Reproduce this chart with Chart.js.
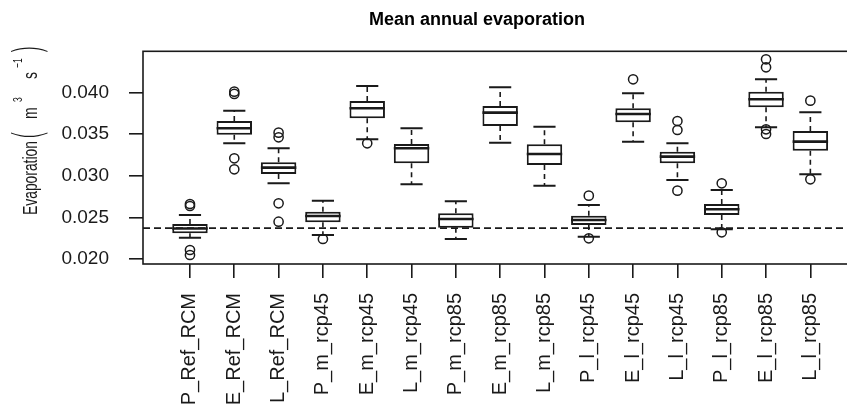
<!DOCTYPE html>
<html>
<head>
<meta charset="utf-8">
<script src="https://cdn.jsdelivr.net/npm/chart.js@4.4.1/dist/chart.umd.min.js"></script>
<style>
  html, body { margin: 0; padding: 0; background: #fff; overflow: hidden; }
  #wrap { width: 954px; height: 406px; }
</style>
</head>
<body>
<div id="wrap"><canvas id="evapChart" width="954" height="406"></canvas></div>
<script>
const categories = ['P_Ref_RCM', 'E_Ref_RCM', 'L_Ref_RCM', 'P_m_rcp45', 'E_m_rcp45', 'L_m_rcp45',
  'P_m_rcp85', 'E_m_rcp85', 'L_m_rcp85', 'P_l_rcp45', 'E_l_rcp45', 'L_l_rcp45',
  'P_l_rcp85', 'E_l_rcp85', 'L_l_rcp85'];

// box plot stats (m3 s-1)
const whiskerLow  = [0.02256, 0.03388, 0.02908, 0.02288, 0.03436, 0.02896, 0.02240, 0.03396, 0.02880, 0.02268, 0.03408, 0.02948, 0.02356, 0.03580, 0.03016];
const q1          = [0.02308, 0.03492, 0.03020, 0.02440, 0.03688, 0.03148, 0.02376, 0.03596, 0.03128, 0.02408, 0.03640, 0.03148, 0.02528, 0.03820, 0.03300];
const median      = [0.02366, 0.03568, 0.03096, 0.02516, 0.03808, 0.03328, 0.02480, 0.03756, 0.03260, 0.02468, 0.03740, 0.03228, 0.02596, 0.03916, 0.03408];
const q3          = [0.02420, 0.03656, 0.03160, 0.02568, 0.03896, 0.03380, 0.02548, 0.03836, 0.03376, 0.02520, 0.03808, 0.03288, 0.02660, 0.04008, 0.03536];
const whiskerHigh = [0.02528, 0.03780, 0.03328, 0.02700, 0.04076, 0.03568, 0.02692, 0.04060, 0.03588, 0.02648, 0.03988, 0.03388, 0.02828, 0.04156, 0.03760];
const outliers = [
  [0.02660, 0.02636, 0.02108, 0.02048],
  [0.04008, 0.03980, 0.03208, 0.03076],
  [0.03516, 0.03460, 0.02668, 0.02448],
  [0.02240],
  [0.03388],
  [],
  [],
  [],
  [],
  [0.02760, 0.02248],
  [0.04156],
  [0.03656, 0.03548, 0.02820],
  [0.02908, 0.02320],
  [0.04396, 0.04300, 0.03556, 0.03500],
  [0.03900, 0.02956]
];
const refLine = 0.0237;
const yTicks = [0.020, 0.025, 0.030, 0.035, 0.040];
const xMin = -0.06, xMax = 16.075;
const yMin = 0.0194, yMax = 0.04492;

const INK = '#1a1a1a';
const FONT = "'Liberation Sans', Arial, sans-serif";

Chart.defaults.font.family = FONT;
Chart.defaults.color = INK;

function drawYTitle(ctx) {
  const squeeze = 0.66;
  // text, font, offset along text, offset across (negative = raised)
  const pieces = [
    ['Evaporation', '21px ' + FONT, 0, 0],
    ['(', "200 40px 'DejaVu Sans', " + FONT, 75, 5],
    ['m', '21px ' + FONT, 96, 0],
    ['3', '13px ' + FONT, 113, -15],
    ['s', '21px ' + FONT, 136, 0],
    ['\u22121', '13px ' + FONT, 147, -15],
    [')', "200 40px 'DejaVu Sans', " + FONT, 160, 5]
  ];
  ctx.save();
  ctx.translate(37, 215);
  ctx.rotate(-Math.PI / 2);
  ctx.fillStyle = INK;
  ctx.textBaseline = 'alphabetic';
  pieces.forEach(([text, font, along, across]) => {
    ctx.save();
    ctx.translate(along, across);
    ctx.scale(squeeze, 1);
    ctx.font = font;
    ctx.fillText(text, 0, 0);
    ctx.restore();
  });
  ctx.restore();
}

const boxExtras = {
  id: 'boxExtras',
  afterDatasetsDraw(chart) {
    const { ctx, chartArea, scales: { x, y } } = chart;
    ctx.save();
    ctx.strokeStyle = INK;
    categories.forEach((cat, i) => {
      const cx = x.getPixelForValue(i + 1);
      const half = x.getPixelForValue(i + 1.4) - cx;
      const cap = x.getPixelForValue(i + 1.25) - cx;

      // dashed whiskers
      ctx.lineWidth = 1.6;
      ctx.setLineDash([5, 4]);
      ctx.beginPath();
      ctx.moveTo(cx, y.getPixelForValue(q3[i]));
      ctx.lineTo(cx, y.getPixelForValue(whiskerHigh[i]));
      ctx.moveTo(cx, y.getPixelForValue(q1[i]));
      ctx.lineTo(cx, y.getPixelForValue(whiskerLow[i]));
      ctx.stroke();

      // staples
      ctx.setLineDash([]);
      ctx.lineWidth = 2;
      ctx.beginPath();
      const hi = y.getPixelForValue(whiskerHigh[i]);
      const lo = y.getPixelForValue(whiskerLow[i]);
      ctx.moveTo(cx - cap, hi); ctx.lineTo(cx + cap, hi);
      ctx.moveTo(cx - cap, lo); ctx.lineTo(cx + cap, lo);
      ctx.stroke();

      // median
      ctx.lineWidth = 2.6;
      ctx.beginPath();
      const md = y.getPixelForValue(median[i]);
      ctx.moveTo(cx - half, md); ctx.lineTo(cx + half, md);
      ctx.stroke();
    });

    // plot frame
    ctx.lineWidth = 1.6;
    ctx.strokeRect(chartArea.left, chartArea.top, chartArea.right - chartArea.left, chartArea.bottom - chartArea.top);
    ctx.restore();

    drawYTitle(ctx);
  }
};

const outlierPoints = [];
outliers.forEach((vals, i) => vals.forEach(v => outlierPoints.push({ x: i + 1, y: v })));

new Chart(document.getElementById('evapChart').getContext('2d'), {
  type: 'bar',
  data: {
    datasets: [
      {
        type: 'line',
        data: [{ x: xMin, y: refLine }, { x: xMax, y: refLine }],
        yAxisID: 'y',
        borderColor: INK,
        borderWidth: 1.6,
        borderDash: [7, 4],
        pointRadius: 0
      },
      {
        type: 'scatter',
        data: outlierPoints,
        yAxisID: 'y',
        pointStyle: 'circle',
        pointRadius: 4.6,
        pointBorderWidth: 1.5,
        pointBorderColor: INK,
        pointBackgroundColor: 'rgba(0,0,0,0)'
      },
      {
        type: 'bar',
        data: categories.map((c, i) => ({ x: i + 1, y: [q1[i], q3[i]] })),
        yAxisID: 'y',
        backgroundColor: '#ffffff',
        borderColor: INK,
        borderWidth: 2,
        borderSkipped: false,
        categoryPercentage: 0.8,
        barPercentage: 1.0
      }
    ]
  },
  options: {
    responsive: false,
    animation: false,
    devicePixelRatio: 1,
    layout: { padding: 0 },
    plugins: {
      legend: { display: false },
      tooltip: { enabled: false },
      title: {
        display: true,
        text: 'Mean annual evaporation',
        color: '#000',
        font: { size: 18, weight: 'bold', family: FONT },
        padding: { top: 9, bottom: 20.7 }
      }
    },
    scales: {
      x: {
        type: 'linear',
        min: xMin,
        max: xMax,
        offset: false,
        afterFit: (axis) => { axis.height = 142; },
        afterBuildTicks: (axis) => { axis.ticks = categories.map((c, i) => ({ value: i + 1 })); },
        grid: { offset: false, drawOnChartArea: false, drawTicks: true, tickLength: 14, color: INK, lineWidth: 1.6 },
        border: { display: false },
        ticks: {
          autoSkip: false,
          minRotation: 90,
          maxRotation: 90,
          padding: 15,
          font: { size: 20 },
          callback: (v, idx) => categories[idx]
        }
      },
      y: {
        type: 'linear',
        position: 'left',
        min: yMin,
        max: yMax,
        afterFit: (axis) => { axis.width = 143; },
        afterBuildTicks: (axis) => { axis.ticks = yTicks.map(v => ({ value: v })); },
        grid: { drawOnChartArea: false, drawTicks: true, tickLength: 14, color: INK, lineWidth: 1.6 },
        border: { display: false },
        ticks: {
          padding: 20,
          font: { size: 19 },
          callback: (v) => Number(v).toFixed(3)
        }
      },
      // empty right margin (off screen) so the title centres like the original
      margin: {
        type: 'linear',
        position: 'right',
        afterFit: (axis) => { axis.width = 96; },
        grid: { display: false },
        border: { display: false },
        ticks: { display: false }
      }
    }
  },
  plugins: [boxExtras]
});
</script>
</body>
</html>
